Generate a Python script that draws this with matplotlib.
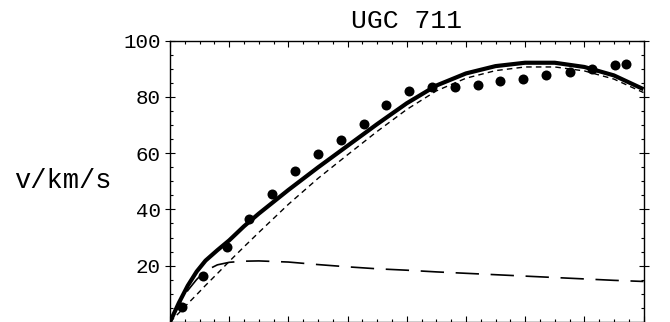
import matplotlib
matplotlib.use("Agg")
import matplotlib.pyplot as plt
from matplotlib.ticker import MultipleLocator, NullFormatter

# Observed rotation velocities (km/s) against radius
r_obs = [0.20, 0.56, 0.96, 1.34, 1.73, 2.12, 2.50, 2.89, 3.27, 3.65, 4.03,
         4.43, 4.81, 5.20, 5.58, 5.97, 6.36, 6.75, 7.13, 7.52, 7.71]
v_obs = [5.5, 16.2, 26.5, 36.6, 45.5, 53.5, 59.7, 64.5, 70.5, 77.2, 82.0,
         83.4, 83.4, 84.3, 85.5, 86.4, 87.6, 88.9, 90.0, 91.2, 91.8]

# Model curves
r_model = [0, 0.15, 0.3, 0.45, 0.6, 0.8, 1.0, 1.25, 1.5, 2.0, 2.5, 3.0,
           3.5, 4.0, 4.5, 5.0, 5.5, 6.0, 6.5, 7.0, 7.5, 8.0]
v_total = [0, 6.8, 12.9, 17.9, 21.8, 25.5, 29.0, 34.0, 38.5, 46.9, 54.9,
           62.6, 70.3, 77.7, 84.0, 88.3, 90.9, 92.1, 92.1, 90.6, 87.6, 82.7]
v_halo = [0, 3.2, 6.5, 9.7, 13.0, 17.2, 21.5, 26.7, 31.8, 41.8, 51.0,
          59.4, 67.7, 75.5, 82.1, 86.6, 89.3, 90.6, 90.6, 89.2, 86.3, 81.5]
v_disk = [0, 6.0, 11.2, 15.1, 18.2, 20.3, 21.2, 21.6, 21.7, 21.3, 20.4,
          19.6, 18.9, 18.4, 17.8, 17.3, 16.8, 16.3, 15.8, 15.3, 14.8, 14.4]

title = "UGC 711"
ylabel = "v/km/s"
yticks = [20, 40, 60, 80, 100]

mono = ["Liberation Mono", "DejaVu Sans Mono"]

fig = plt.figure(figsize=(6.7, 3.22), dpi=100)
ax = fig.add_axes([170 / 670, 0.0, 473.5 / 670, 281.5 / 322])

ax.plot(r_model, v_total, color="black", lw=3.0, solid_capstyle="butt", zorder=3)
ax.plot(r_model, v_halo, color="black", lw=1.0, dashes=(4, 3), zorder=2)
ax.plot(r_model, v_disk, color="black", lw=1.2, dashes=(14, 7), zorder=2)
ax.plot(r_obs, v_obs, "o", color="black", ms=7.2, mec="none", zorder=4)

ax.set_xlim(0, 8)
ax.set_ylim(0, 100)

ax.xaxis.set_major_locator(MultipleLocator(1))
ax.xaxis.set_minor_locator(MultipleLocator(0.25))
ax.xaxis.set_major_formatter(NullFormatter())
ax.set_yticks(yticks)
ax.yaxis.set_minor_locator(MultipleLocator(5))
ax.set_yticklabels([str(t) for t in yticks], fontfamily=mono, fontsize=15)

ax.tick_params(which="both", direction="in", top=True, right=True,
               width=0.8, color="black")
ax.tick_params(which="major", length=4.5)
ax.tick_params(which="minor", length=2.5)
ax.tick_params(axis="y", which="major", left=True, direction="inout",
               length=7, pad=3)

for s in ax.spines.values():
    s.set_linewidth(1.0)

ax.set_title(title, fontfamily=mono, fontsize=19, pad=9)
fig.text(14 / 670, 141 / 322, ylabel, fontfamily=mono, fontsize=19.5,
         ha="left", va="center")

fig.savefig("out.png", dpi=100)
